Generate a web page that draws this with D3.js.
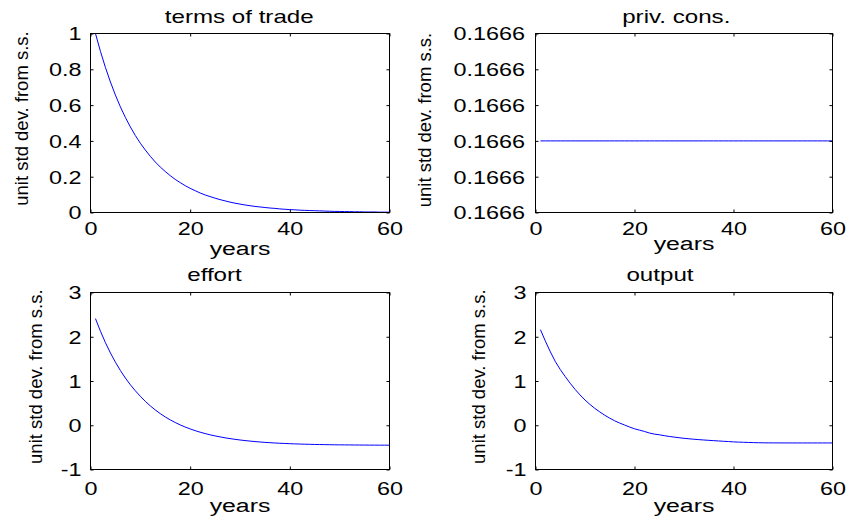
<!DOCTYPE html>
<html>
<head>
<meta charset="utf-8">
<script src="https://cdn.jsdelivr.net/npm/d3@7"></script>
<style>
  body { margin: 0; background: #fff; }
  svg { display: block; }
  text { font-family: "Liberation Sans", Arial, Helvetica, sans-serif; fill: #000; }
</style>
</head>
<body>
<svg id="chart" width="850" height="520"></svg>
<script>
// ---------------- DATA ----------------
const years = d3.range(1, 61);

const termsOfTrade = [1.000,0.900,0.810,0.729,0.656,0.590,0.531,0.478,0.430,0.387,
  0.349,0.314,0.282,0.254,0.229,0.206,0.185,0.167,0.150,0.135,
  0.122,0.109,0.098,0.089,0.080,0.072,0.065,0.058,0.052,0.047,
  0.042,0.038,0.034,0.031,0.028,0.025,0.023,0.020,0.018,0.016,
  0.015,0.013,0.012,0.011,0.010,0.009,0.008,0.007,0.006,0.006,
  0.005,0.005,0.004,0.004,0.003,0.003,0.003,0.002,0.002,0.002];

const privCons = [0.166604,0.166604,0.166604,0.166604,0.166604,0.166604,0.166604,0.166604,0.166604,0.166604,
  0.166604,0.166604,0.166604,0.166604,0.166604,0.166604,0.166604,0.166604,0.166604,0.166604,
  0.166604,0.166604,0.166604,0.166604,0.166604,0.166604,0.166604,0.166604,0.166604,0.166604,
  0.166604,0.166604,0.166604,0.166604,0.166604,0.166604,0.166604,0.166604,0.166604,0.166604,
  0.166604,0.166604,0.166604,0.166604,0.166604,0.166604,0.166604,0.166604,0.166604,0.166604,
  0.166604,0.166604,0.166604,0.166604,0.166604,0.166604,0.166604,0.166604,0.166604,0.166604];

const effort = [2.410,2.124,1.866,1.634,1.425,1.237,1.067,0.915,0.778,0.655,
  0.540,0.438,0.346,0.263,0.188,0.122,0.062,0.008,-0.040,-0.083,
  -0.122,-0.157,-0.188,-0.216,-0.241,-0.263,-0.284,-0.302,-0.318,-0.333,
  -0.346,-0.358,-0.369,-0.378,-0.387,-0.394,-0.401,-0.407,-0.412,-0.417,
  -0.421,-0.425,-0.428,-0.431,-0.434,-0.436,-0.438,-0.440,-0.442,-0.443,
  -0.444,-0.445,-0.446,-0.447,-0.448,-0.449,-0.449,-0.450,-0.450,-0.451];

const output = [2.160,1.900,1.660,1.440,1.260,1.100,0.950,0.810,0.685,0.570,
  0.470,0.380,0.300,0.225,0.160,0.100,0.050,0.005,-0.040,-0.080,
  -0.110,-0.140,-0.175,-0.200,-0.215,-0.235,-0.252,-0.268,-0.282,-0.295,
  -0.306,-0.316,-0.325,-0.333,-0.341,-0.348,-0.355,-0.362,-0.369,-0.376,
  -0.381,-0.385,-0.389,-0.392,-0.395,-0.397,-0.398,-0.399,-0.399,-0.400,
  -0.400,-0.400,-0.400,-0.400,-0.400,-0.400,-0.400,-0.400,-0.400,-0.400];

const xTicks = [0, 20, 40, 60];
const totTicks = [0, 0.2, 0.4, 0.6, 0.8, 1];
const consTicks = [0.166600, 0.166602, 0.166604, 0.166606, 0.166608, 0.166610];
const effTicks = [-1, 0, 1, 2, 3];
const outTicks = [-1, 0, 1, 2, 3];

const titles = ["terms of trade", "priv. cons.", "effort", "output"];
const xLabel = "years";
const yLabel = "unit std dev. from s.s.";

// ---------------- LAYOUT ----------------
const SX_TICK = 1.3, SX_TEXT = 1.38;
const panels = [
  { title: titles[0], data: termsOfTrade, yDomain: [0, 1], yTicks: totTicks, fmt: d => String(d),
    x0: 90.5, x1: 389.5, y0: 33.5, y1: 212.5, titleX: 239.2, titleY: 22.7,
    xlabY: 255, ylabX: 28.3, ylabY: 118.5, xTickY: 235, yPad: 9 },
  { title: titles[1], data: privCons, yDomain: [0.16660, 0.16661], yTicks: consTicks, fmt: d3.format(".4f"),
    x0: 535.5, x1: 832.5, y0: 33.5, y1: 212.5, titleX: 676.3, titleY: 23.3,
    xlabY: 250, ylabX: 430.5, ylabY: 120, xTickY: 235, yPad: 10.5 },
  { title: titles[2], data: effort, yDomain: [-1, 3], yTicks: effTicks, fmt: d => String(d),
    x0: 90.5, x1: 389.5, y0: 292.5, y1: 469.5, titleX: 214.5, titleY: 280.7,
    xlabY: 512, ylabX: 41.7, ylabY: 376.7, xTickY: 495, yPad: 9 },
  { title: titles[3], data: output, yDomain: [-1, 3], yTicks: outTicks, fmt: d => String(d),
    x0: 535.5, x1: 832.5, y0: 292.5, y1: 469.5, titleX: 660, titleY: 280.5,
    xlabY: 512, ylabX: 485, ylabY: 376.7, xTickY: 495, yPad: 9 }
];

const svg = d3.select("#chart");
svg.append("rect").attr("width", 850).attr("height", 520).attr("fill", "#fff");

const TICK = 3;

panels.forEach(p => {
  const x = d3.scaleLinear().domain([0, 60]).range([p.x0, p.x1]);
  const y = d3.scaleLinear().domain(p.yDomain).range([p.y1, p.y0]);
  const g = svg.append("g");

  // data line
  const line = d3.line().x((d, i) => x(years[i])).y(d => y(d));
  g.append("path").datum(p.data)
    .attr("d", line)
    .attr("fill", "none")
    .attr("stroke", "#0000ff")
    .attr("stroke-width", 1);

  // axes (ticks inside on all sides)
  const left = g.append("g").attr("transform", `translate(${p.x0},0)`)
    .call(d3.axisLeft(y).tickValues(p.yTicks).tickFormat(p.fmt).tickSizeInner(-TICK).tickSizeOuter(0).tickPadding(0));
  const right = g.append("g").attr("transform", `translate(${p.x1},0)`)
    .call(d3.axisRight(y).tickValues(p.yTicks).tickFormat("").tickSizeInner(-TICK).tickSizeOuter(0));
  const bottom = g.append("g").attr("transform", `translate(0,${p.y1})`)
    .call(d3.axisBottom(x).tickValues(xTicks).tickFormat(d => String(d)).tickSizeInner(-TICK).tickSizeOuter(0).tickPadding(0));
  const top = g.append("g").attr("transform", `translate(0,${p.y0})`)
    .call(d3.axisTop(x).tickValues(xTicks).tickFormat("").tickSizeInner(-TICK).tickSizeOuter(0));

  [left, right, bottom, top].forEach(a => {
    a.select(".domain").remove();
    a.selectAll(".tick line").attr("stroke", "#000").attr("stroke-width", 1);
    a.selectAll("text").attr("fill", "#000").style("font-size", "18px")
      .style("font-family", '"Liberation Sans", Arial, sans-serif');
  });

  left.selectAll(".tick text")
    .attr("x", 0).attr("dy", "0.35em")
    .attr("text-anchor", "end")
    .attr("transform", `translate(${-p.yPad},0) scale(${SX_TICK},1)`);

  bottom.selectAll(".tick text")
    .attr("y", 0).attr("dy", 0)
    .attr("text-anchor", "middle")
    .attr("transform", `translate(0,${p.xTickY - p.y1}) scale(${SX_TICK},1)`);

  // box
  g.append("rect")
    .attr("x", p.x0).attr("y", p.y0)
    .attr("width", p.x1 - p.x0).attr("height", p.y1 - p.y0)
    .attr("fill", "none").attr("stroke", "#000").attr("stroke-width", 1);

  // title
  g.append("text")
    .attr("transform", `translate(${p.titleX},${p.titleY}) scale(${SX_TEXT},1)`)
    .attr("text-anchor", "middle")
    .style("font-size", "17.5px")
    .text(p.title);

  // x label
  g.append("text")
    .attr("transform", `translate(${(p.x0 + p.x1) / 2},${p.xlabY}) scale(${SX_TEXT},1)`)
    .attr("text-anchor", "middle")
    .style("font-size", "18px")
    .text(xLabel);

  // y label
  g.append("text")
    .attr("transform", `translate(${p.ylabX},${p.ylabY}) rotate(-90)`)
    .attr("text-anchor", "middle")
    .style("font-size", "18.5px")
    .text(yLabel);
});
</script>
</body>
</html>
